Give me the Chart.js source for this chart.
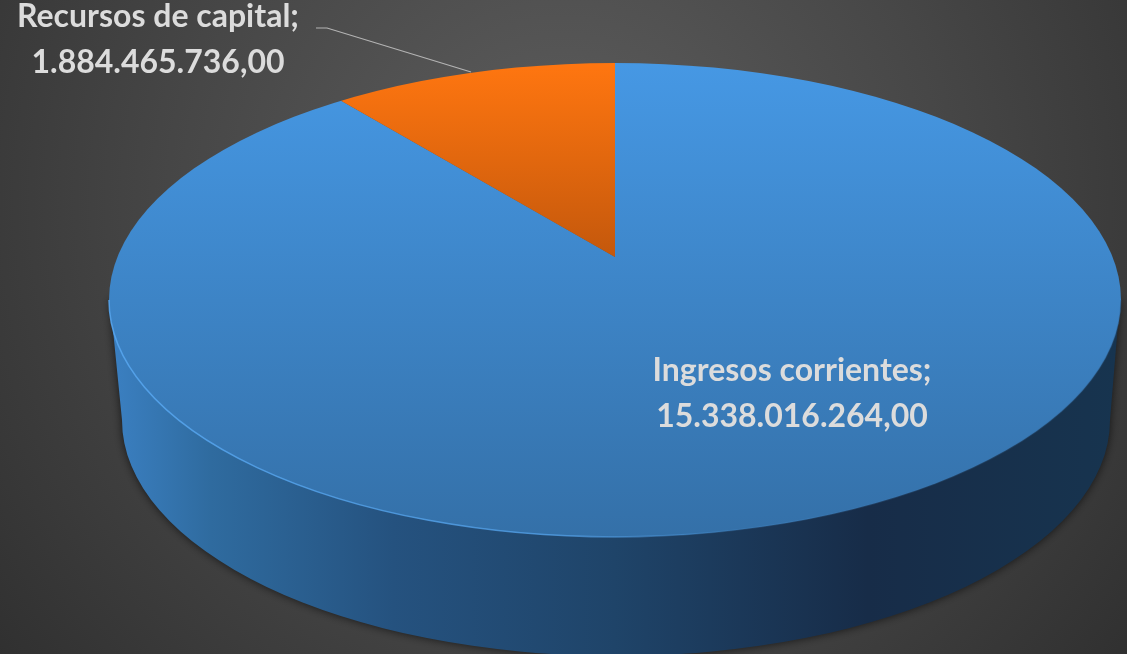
<!DOCTYPE html>
<html>
<head>
<meta charset="utf-8">
<script src="https://cdn.jsdelivr.net/npm/chart.js@4"></script>
<style>
  html, body { margin: 0; padding: 0; background: #3c3c3c; overflow: hidden; }
  canvas { display: block; }
</style>
</head>
<body>
<canvas id="pie3d" width="1127" height="654"></canvas>
<script>
const categories = ["Ingresos corrientes", "Recursos de capital"];
const values = [15338016264.0, 1884465736.0];

// top face of the tilted pie, the wedge apex sits above the ellipse centre
const face = { cx: 615, cy: 300, rx: 506, ry: 237, apexY: 257, stretch: 2.135 };
const base = { cx: 616, cy: 420, rx: 494, ry: 236 };

function formatValue(v) {
  const parts = v.toFixed(2).split(".");
  return parts[0].replace(/\B(?=(\d{3})+(?!\d))/g, ".") + "," + parts[1];
}

const canvas = document.getElementById("pie3d");
const ctx = canvas.getContext("2d");

const blue = ctx.createLinearGradient(0, 63, 0, 538);
blue.addColorStop(0, "#4698e4");
blue.addColorStop(1, "#3470a8");
const orange = ctx.createLinearGradient(0, 63, 0, 257);
orange.addColorStop(0, "#ff7610");
orange.addColorStop(1, "#c4580c");

function facePath(c) {
  c.beginPath();
  c.ellipse(face.cx, face.cy, face.rx, face.ry, 0, 0, Math.PI * 2);
}

const backdrop = {
  id: "backdrop",
  beforeDraw(chart) {
    const c = chart.ctx;
    const g = c.createRadialGradient(563, 200, 0, 563, 200, 760);
    g.addColorStop(0, "#5e5e5e");
    g.addColorStop(0.5, "#474747");
    g.addColorStop(1, "#2e2e2e");
    c.save();
    c.fillStyle = g;
    c.fillRect(0, 0, chart.width, chart.height);
    c.restore();
  },
};

const tilt = {
  id: "tilt",
  beforeDatasetsDraw(chart) {
    const c = chart.ctx;
    // side wall
    const wall = c.createLinearGradient(110, 0, 1120, 0);
    wall.addColorStop(0, "#3b80c2");
    wall.addColorStop(0.1, "#2f6b9f");
    wall.addColorStop(0.28, "#25527f");
    wall.addColorStop(0.5, "#1f4469");
    wall.addColorStop(0.75, "#172c48");
    wall.addColorStop(1, "#17344f");
    c.save();
    c.shadowColor = "rgba(0,0,0,0.65)";
    c.shadowBlur = 10;
    c.fillStyle = wall;
    c.beginPath();
    c.moveTo(face.cx - face.rx + 1, face.cy);
    c.lineTo(base.cx - base.rx, base.cy);
    c.ellipse(base.cx, base.cy, base.rx, base.ry, 0, Math.PI, 0, true);
    c.lineTo(face.cx + face.rx - 1, face.cy);
    c.closePath();
    c.fill();
    c.restore();

    // the slices are drawn stretched around the apex and cut to the face
    c.save();
    facePath(c);
    c.clip();
    c.translate(face.cx, face.apexY);
    c.scale(face.stretch, 1);
    c.translate(-face.cx, -face.apexY);
  },
  afterDatasetsDraw(chart) {
    const c = chart.ctx;
    c.restore();

    const rim = c.createLinearGradient(110, 0, 1120, 0);
    rim.addColorStop(0, "rgba(86,165,238,0.9)");
    rim.addColorStop(0.45, "rgba(86,165,238,0.7)");
    rim.addColorStop(0.62, "rgba(86,165,238,0.15)");
    rim.addColorStop(1, "rgba(40,80,120,0.3)");
    c.save();
    c.strokeStyle = rim;
    c.lineWidth = 1.5;
    c.beginPath();
    c.ellipse(face.cx, face.cy, face.rx, face.ry, 0, 0, Math.PI);
    c.stroke();
    c.restore();
  },
};

const labels = {
  id: "sliceLabels",
  afterDraw(chart) {
    const c = chart.ctx;
    c.save();
    // leader line of the small slice
    c.strokeStyle = "#b4b4b4";
    c.lineWidth = 1.2;
    c.beginPath();
    c.moveTo(316, 28);
    c.lineTo(327, 28);
    c.lineTo(471, 72);
    c.stroke();

    c.fillStyle = "#dcdcdc";
    c.font = "bold 32px Lato, 'Open Sans', sans-serif";
    c.textAlign = "center";
    c.fillText(categories[0] + ";", 792, 381);
    c.fillText(formatValue(values[0]), 792, 427);
    c.fillText(categories[1] + ";", 158, 27);
    c.fillText(formatValue(values[1]), 158, 73);
    c.restore();
  },
};

new Chart(ctx, {
  type: "pie",
  data: {
    labels: categories,
    datasets: [
      {
        data: values,
        backgroundColor: [blue, orange],
        borderWidth: 0,
        radius: 300,
      },
    ],
  },
  options: {
    responsive: false,
    animation: false,
    layout: { padding: { top: 0, bottom: 140, left: 103, right: 0 } },
    plugins: {
      legend: { display: false },
      tooltip: { enabled: false },
    },
  },
  plugins: [backdrop, tilt, labels],
});
</script>
</body>
</html>
